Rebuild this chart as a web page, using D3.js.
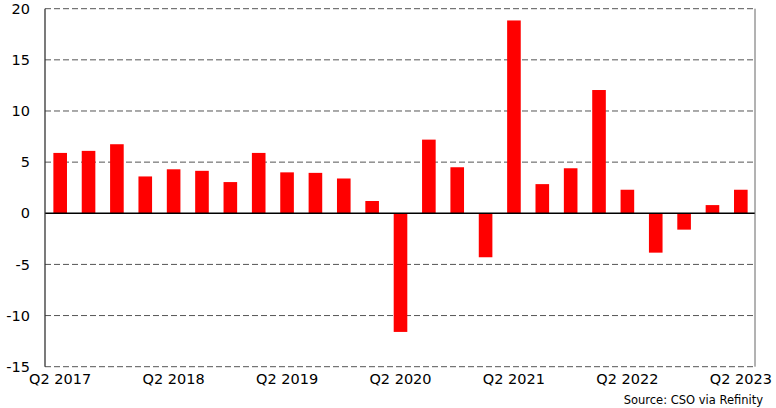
<!DOCTYPE html>
<html>
<head>
<meta charset="utf-8">
<script src="https://cdn.jsdelivr.net/npm/d3@7"></script>
<style>
  html, body { margin: 0; padding: 0; background: #fff; }
  svg { display: block; }
  text { font-family: "DejaVu Sans", Verdana, sans-serif; fill: #000; }
</style>
</head>
<body>
<svg id="chart" width="776" height="408"></svg>
<script>
const quarters = [
  "Q2 2017","Q3 2017","Q4 2017",
  "Q1 2018","Q2 2018","Q3 2018","Q4 2018",
  "Q1 2019","Q2 2019","Q3 2019","Q4 2019",
  "Q1 2020","Q2 2020","Q3 2020","Q4 2020",
  "Q1 2021","Q2 2021","Q3 2021","Q4 2021",
  "Q1 2022","Q2 2022","Q3 2022","Q4 2022",
  "Q1 2023","Q2 2023"
];
const growth = [
  5.9, 6.1, 6.75,
  3.6, 4.3, 4.15, 3.05,
  5.9, 4.0, 3.95, 3.4,
  1.2, -11.6, 7.2, 4.5,
  -4.3, 18.85, 2.85, 4.4,
  12.05, 2.3, -3.85, -1.6,
  0.8, 2.3
];
const yTicks = [20, 15, 10, 5, 0, -5, -10, -15];
const xTickLabels = ["Q2 2017","Q2 2018","Q2 2019","Q2 2020","Q2 2021","Q2 2022","Q2 2023"];
const sourceText = "Source: CSO via Refinity";

(function () {
const svg = d3.select("#chart");
const pLeft = 45, pRight = 755, pTop = 8.7, pBottom = 366.7;

const x = d3.scaleBand().domain(quarters).range([46, 755]).paddingInner(0.52).paddingOuter(0.26);
const y = d3.scaleLinear().domain([-15, 20]).range([pBottom, pTop]);

// gridlines
svg.append("g").selectAll("line")
  .data(yTicks.filter(d => d !== 0))
  .join("line")
  .attr("x1", pLeft).attr("x2", pRight)
  .attr("y1", d => y(d)).attr("y2", d => y(d))
  .attr("stroke", "#555")
  .attr("stroke-width", 1)
  .attr("stroke-dasharray", "6,3");

// bars
svg.append("g").selectAll("rect")
  .data(quarters.map((q, i) => ({q, v: growth[i]})))
  .join("rect")
  .attr("x", d => x(d.q))
  .attr("width", x.bandwidth())
  .attr("y", d => y(Math.max(0, d.v)))
  .attr("height", d => Math.abs(y(d.v) - y(0)))
  .attr("fill", "#ff0000");

// zero line
svg.append("line")
  .attr("x1", pLeft).attr("x2", pRight)
  .attr("y1", y(0)).attr("y2", y(0))
  .attr("stroke", "#000").attr("stroke-width", 1.5);

// left and right axis lines
svg.append("line")
  .attr("x1", pLeft).attr("x2", pLeft)
  .attr("y1", pTop).attr("y2", pBottom)
  .attr("stroke", "#333").attr("stroke-width", 1.3);
svg.append("line")
  .attr("x1", pRight).attr("x2", pRight)
  .attr("y1", pTop).attr("y2", pBottom)
  .attr("stroke", "#666").attr("stroke-width", 1);

// y axis labels
const yAxis = d3.axisLeft(y).tickValues(yTicks).tickFormat(d => String(d)).tickSize(0).tickPadding(0);
const yg = svg.append("g").attr("transform", "translate(30,0)").call(yAxis);
yg.select(".domain").remove();
yg.selectAll("text")
  .attr("font-size", "14.5px")
  .attr("font-family", "'DejaVu Sans', Verdana, sans-serif")
  .attr("fill", "#000");

// x axis labels
const xAxis = d3.axisBottom(x).tickValues(xTickLabels).tickSize(0).tickPadding(0);
const xg = svg.append("g").attr("transform", `translate(0,${pBottom + 7})`).call(xAxis);
xg.select(".domain").remove();
xg.selectAll("text")
  .attr("font-size", "14.5px")
  .attr("font-family", "'DejaVu Sans', Verdana, sans-serif")
  .attr("fill", "#000");

// source
svg.append("text")
  .attr("x", 763).attr("y", 404)
  .attr("text-anchor", "end")
  .attr("font-size", "11.5px")
  .attr("font-family", "'Noto Sans', 'DejaVu Sans', sans-serif")
  .text(sourceText);
})();
</script>
</body>
</html>
